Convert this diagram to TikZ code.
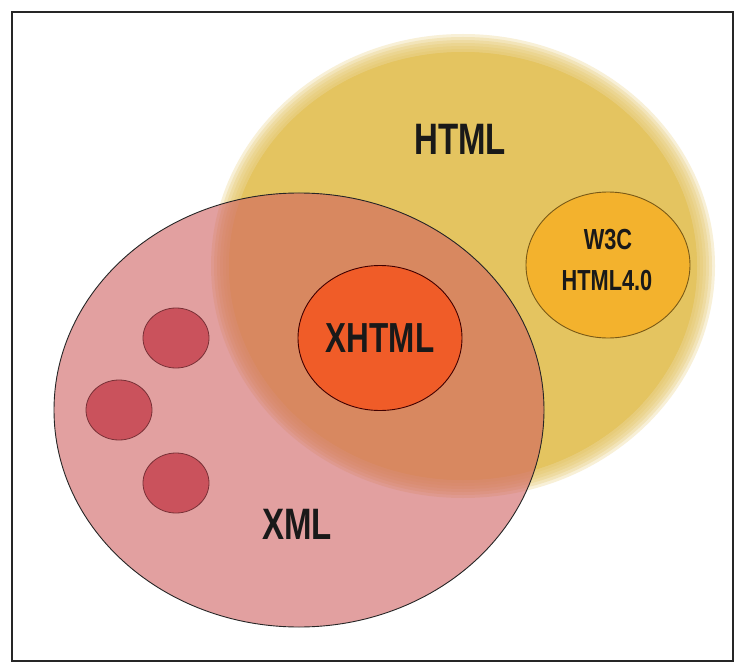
\documentclass[tikz,border=0pt]{standalone}
\usepackage{fontspec}
\newfontfamily\cond[FakeStretch=0.75]{Liberation Sans}
\usetikzlibrary{shapes.geometric}
\definecolor{htmly}{RGB}{228,196,96}
\definecolor{xmlpink}{RGB}{226,160,160}
\definecolor{overlap}{RGB}{216,136,96}
\definecolor{xhtmlc}{RGB}{240,92,40}
\definecolor{w3cc}{RGB}{243,178,45}
\definecolor{dotc}{RGB}{202,82,92}
\begin{document}
\begin{tikzpicture}[x=1pt,y=-1pt,
  lbl/.style={font=\cond\bfseries\fontsize{44}{48}\selectfont, inner sep=0pt, text=black!90},
  smalllbl/.style={font=\cond\bfseries\fontsize{29}{32}\selectfont, inner sep=0pt, text=black!90},
  dotnode/.style={ellipse, draw=dotc!60!black, line width=0.8pt, fill=dotc, minimum width=66pt, minimum height=60pt, inner sep=0pt},
  bubble/.style={ellipse, line width=0.9pt, minimum width=164pt, minimum height=145pt, inner sep=0pt}]
\useasboundingbox (0,0) rectangle (736,663);
\fill[white] (0,0) rectangle (736,663);
% HTML set with soft edge
\fill[htmly] (463,266) ellipse [x radius=234, y radius=214];
\foreach \d in {-12,-9,...,6}
  \fill[htmly, fill opacity=0.25] (463,266) ellipse [x radius={246+\d}, y radius={226+\d}];
% XML set
\fill[xmlpink] (299,410) ellipse [x radius=245, y radius=217];
\begin{scope}
  \clip (299,410) ellipse [x radius=245, y radius=217];
  \fill[overlap] (463,266) ellipse [x radius=234, y radius=214];
  \foreach \d in {-12,-9,...,6}
    \fill[overlap, fill opacity=0.25] (463,266) ellipse [x radius={246+\d}, y radius={226+\d}];
\end{scope}
\node[ellipse, draw=black!85, line width=0.9pt, minimum width=490pt, minimum height=434pt, inner sep=0pt] (xml) at (299,410) {};
% inner elements
\node[dotnode] (d1) at (176,338) {};
\node[dotnode] (d2) at (119,410) {};
\node[dotnode] (d3) at (176,483) {};
\node[bubble, draw=black!75!red, fill=xhtmlc] (xhtml) at (380,338) {};
\node[bubble, draw=black!50!w3cc, fill=w3cc, minimum height=146pt] (w3c) at (608,265) {};
% labels
\node[lbl] (htmllbl) at (460,139) {HTML};
\node[lbl] (xmllbl) at (297,524) {XML};
\node[lbl, font=\cond\bfseries\fontsize{42}{46}\selectfont] (xhtmllbl) at (xhtml) {XHTML};
\node[smalllbl] (w3clbl) at (608,240) {W3C};
\node[smalllbl] (html4lbl) at (607,281) {HTML4.0};
% frame
\draw[line width=2.5pt, black!85] (12,12) rectangle (733,661);
\end{tikzpicture}
\end{document}
